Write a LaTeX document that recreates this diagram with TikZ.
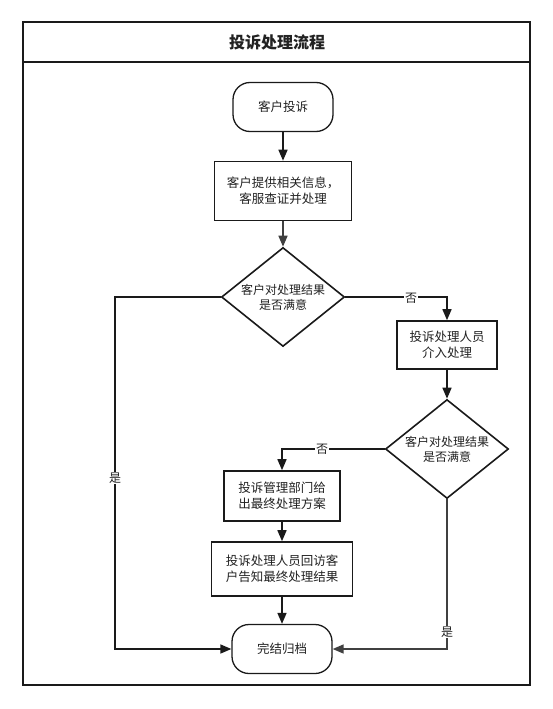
\documentclass[tikz,border=0pt]{standalone}
\usepackage{fontspec}
\setmainfont{Noto Sans CJK SC}
\usetikzlibrary{shapes.geometric,arrows.meta}
\definecolor{edge}{HTML}{1A1A1A}
\definecolor{gedge}{HTML}{404040}
\definecolor{txt}{HTML}{222222}
\tikzset{
  box/.style={draw=edge,line width=1.6pt,fill=white,align=center,text=txt,font=\fontsize{12.5}{16}\selectfont,inner sep=0pt},
  term/.style={draw=edge,line width=1.3pt,rounded corners=17pt,fill=white,text=txt,font=\fontsize{12.5}{16}\selectfont,inner sep=0pt,minimum width=100pt,minimum height=49pt},
  dec/.style={draw=edge,line width=1.6pt,diamond,aspect=1.24,fill=white,align=center,text=txt,font=\fontsize{12}{15}\selectfont,inner sep=0pt,minimum width=123pt,minimum height=99pt},
  conn/.style={draw=edge,line width=1.6pt,-{Triangle[length=11pt,width=9pt]}},
  gconn/.style={draw=gedge,line width=1.6pt,-{Triangle[length=11pt,width=9pt]}},
  lbl/.style={fill=white,text=txt,font=\fontsize{12}{14}\selectfont,inner sep=1pt}
}
\begin{document}
\begin{tikzpicture}[x=1pt,y=-1pt]
\useasboundingbox (0,0) rectangle (553,709);
\fill[white] (0,0) rectangle (553,709);
\draw[line width=1.6pt,draw=edge] (23,22) rectangle (530,685);
\draw[line width=1.6pt,draw=edge] (23,62) -- (530,62);
\node[text=txt,font=\fontsize{16}{19}\selectfont\bfseries] (title) at (277,42) {投诉处理流程};

\node[term] (start) at (283,107) {客户投诉};
\node[box,minimum width=137pt,minimum height=59pt] (b1) at (283,191) {客户提供相关信息，\\客服查证并处理};
\node[dec] (d1) at (283,297) {客户对处理结果\\是否满意};
\node[box,minimum width=100pt,minimum height=48pt] (b2) at (447,345) {投诉处理人员\\介入处理};
\node[dec] (d2) at (447,449) {客户对处理结果\\是否满意};
\node[box,minimum width=116pt,minimum height=50pt] (b3) at (282,496) {投诉管理部门给\\出最终处理方案};
\node[box,minimum width=141pt,minimum height=54pt] (b4) at (282,569) {投诉处理人员回访客\\户告知最终处理结果};
\node[term] (end) at (282,649) {完结归档};

\coordinate (c1) at (115,297);
\coordinate (c2) at (115,649);
\coordinate (c3) at (447,297);
\coordinate (c4) at (282,449);
\coordinate (c5) at (447,649);

\draw[conn] (start) -- (b1);
\draw[gconn] (b1) -- (d1);
\draw[conn] (d1.west) -- (c1) -- (c2) -- (end.west);
\node[lbl] (yes1) at (115,478) {是};
\draw[conn] (d1.east) -- (c3) -- (b2.north);
\node[lbl] (no1) at (411,298) {否};
\draw[conn] (b2) -- (d2);
\draw[conn] (d2.west) -- (c4) -- (b3.north);
\node[lbl] (no2) at (322,449) {否};
\draw[gconn] (d2.south) -- (c5) -- (end.east);
\node[lbl] (yes2) at (447,632) {是};
\draw[conn] (b3) -- (b4);
\draw[conn] (b4) -- (end);
\end{tikzpicture}
\end{document}
